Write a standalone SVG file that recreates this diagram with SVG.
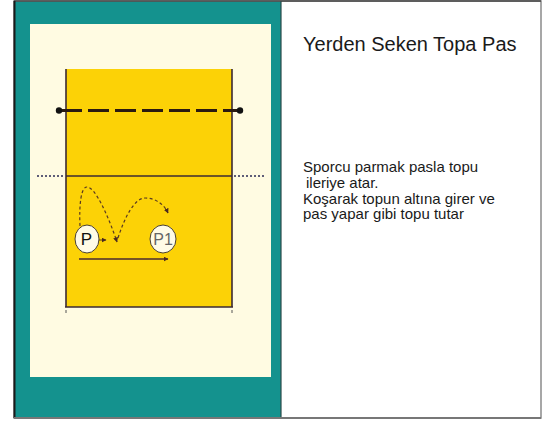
<svg xmlns="http://www.w3.org/2000/svg" width="545" height="421" viewBox="0 0 545 421">
  <style>
    .court-line { stroke: #3b2a33; stroke-width: 1.6; fill: none; }
    .dotted { stroke: #2a2a55; stroke-width: 1.5; stroke-dasharray: 2 2; fill: none; }
    .move { stroke: #5a3a20; stroke-width: 1.2; stroke-dasharray: 3 2.5; fill: none; }
    .run { stroke: #4a2a30; stroke-width: 1.3; fill: none; }
    .player { fill: #fffbe6; stroke: #4a4030; stroke-width: 1; }
    .lbl { font-family: "Liberation Sans", Arial, sans-serif; text-anchor: middle; }
    .txt { font-family: "Liberation Sans", Arial, sans-serif; fill: #1a1a1a; }
  </style>
  <defs>
    <marker id="ah" viewBox="0 0 10 10" refX="9" refY="5" markerWidth="5" markerHeight="5" orient="auto" markerUnits="userSpaceOnUse">
      <path d="M0,0 L10,5 L0,10 z" fill="#4a2a20"/>
    </marker>
  </defs>

  <!-- frame -->
  <rect x="14" y="1" width="527" height="417" fill="#ffffff" stroke="#8a8a8a" stroke-width="1.5"/>
  <rect x="15" y="1.5" width="266" height="416" fill="#14928e"/>
  <line x1="14" y1="1" x2="541" y2="1" stroke="#444" stroke-width="1.5"/>
  <line x1="14.5" y1="1" x2="14.5" y2="418" stroke="#1a1a1a" stroke-width="2"/>
  <line x1="281" y1="1" x2="281" y2="418" stroke="#2a4a48" stroke-width="1.2"/>
  <line x1="14" y1="418" x2="541" y2="418" stroke="#777" stroke-width="2"/>
  <rect x="30" y="24" width="241" height="353" fill="#fffbe2"/>

  <!-- court -->
  <rect x="66" y="69" width="166" height="238" fill="#fcd206"/>
  <line class="court-line" x1="66" y1="69" x2="66" y2="307"/>
  <line class="court-line" x1="232" y1="69" x2="232" y2="307"/>
  <line class="court-line" x1="65" y1="307" x2="233" y2="307"/>
  <line class="court-line" x1="66" y1="176" x2="232" y2="176"/>
  <line x1="66" y1="310" x2="66" y2="313" stroke="#555" stroke-width="1"/>
  <line x1="232" y1="310" x2="232" y2="313" stroke="#555" stroke-width="1"/>
  <line class="dotted" x1="37" y1="176" x2="65" y2="176"/>
  <line class="dotted" x1="234" y1="176" x2="264" y2="176"/>
  <line x1="61" y1="110.5" x2="238" y2="110.5" stroke="#2a1a10" stroke-width="3" stroke-dasharray="21 6"/>
  <circle cx="59" cy="110.5" r="3.2" fill="#111"/>
  <circle cx="240" cy="110.5" r="3.2" fill="#111"/>

  <!-- connectors -->
  <g id="connectors">
    <path class="move" d="M80 226 C79 205 81 187 87 187 C95 187 108 215 117 242" marker-end="url(#ah)"/>
    <path class="move" d="M118 238 C125 216 135 198 145 198 C155 198 164 204 168 213" marker-end="url(#ah)"/>
    <path class="move" d="M99 240 L106 240" marker-end="url(#ah)"/>
    <path class="run" d="M79 259 L168 259" marker-end="url(#ah)"/>
  </g>

  <g id="node-P">
    <ellipse class="player" cx="87" cy="239" rx="12" ry="14"/>
    <text class="lbl" x="86.5" y="245" font-size="17" fill="#111">P</text>
  </g>
  <g id="node-P1">
    <ellipse class="player" cx="163" cy="239" rx="13" ry="14"/>
    <text class="lbl" x="163" y="245" font-size="16" fill="#666">P1</text>
  </g>

  <!-- text panel -->
  <g id="title">
    <text class="txt" x="303" y="51" font-size="20">Yerden Seken Topa Pas</text>
  </g>
  <g id="description">
    <text class="txt" x="303" y="172" font-size="15">Sporcu parmak pasla topu</text>
    <text class="txt" x="306" y="188" font-size="15">ileriye atar.</text>
    <text class="txt" x="303" y="203.5" font-size="15">Koşarak topun altına girer ve</text>
    <text class="txt" x="303" y="219" font-size="15">pas yapar gibi topu tutar</text>
  </g>
</svg>
